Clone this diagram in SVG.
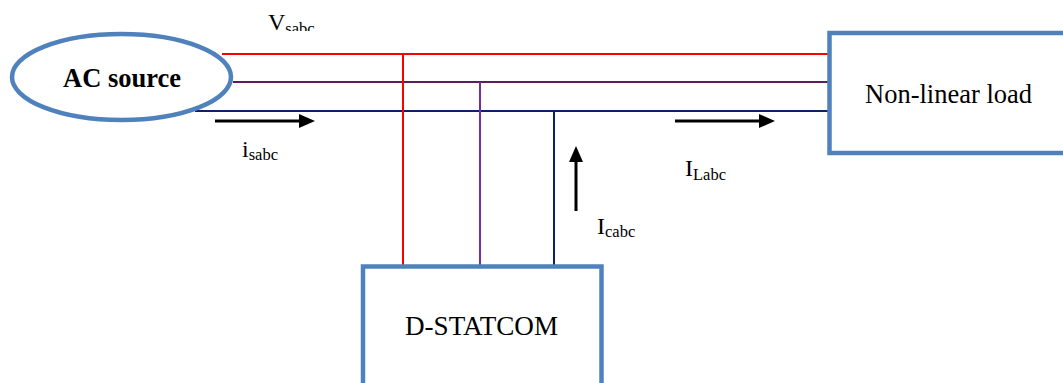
<svg xmlns="http://www.w3.org/2000/svg" width="1063" height="383" viewBox="0 0 1063 383">
<style>
.box{fill:#fff;stroke:#4f81bd;stroke-width:4.5}
.t{font-family:"Liberation Serif",serif;fill:#000}
.main{font-size:26.5px}
.lbl{font-size:24px}
.sub{font-size:16.5px}
.arr{stroke:#000;stroke-width:3;fill:none}
</style>
<defs>
<clipPath id="vclip"><rect x="0" y="0" width="400" height="31"/></clipPath>
</defs>
<rect width="1063" height="383" fill="#fff"/>
<g id="connectors">
<line x1="222" y1="54" x2="829" y2="54" stroke="#ff0000" stroke-width="2"/>
<line x1="233" y1="82" x2="829" y2="82" stroke="#5e1c5e" stroke-width="2.2"/>
<line x1="195" y1="111" x2="829" y2="111" stroke="#0c2166" stroke-width="2.2"/>
<line x1="403" y1="54" x2="403" y2="267" stroke="#ff0000" stroke-width="2"/>
<line x1="480" y1="82" x2="480" y2="267" stroke="#7030a0" stroke-width="2"/>
<line x1="554" y1="111" x2="554" y2="267" stroke="#0c2166" stroke-width="2"/>
<g id="arrow-isabc">
<line class="arr" x1="215" y1="121" x2="300" y2="121"/>
<polygon points="299,114 315,121 299,128" fill="#000"/>
</g>
<g id="arrow-ilabc">
<line class="arr" x1="675" y1="121" x2="760" y2="121"/>
<polygon points="759,114 775,121 759,128" fill="#000"/>
</g>
<g id="arrow-icabc">
<line class="arr" x1="576" y1="211" x2="576" y2="161"/>
<polygon points="569,162 576,146 583,162" fill="#000"/>
</g>
</g>
<g id="ac-source">
<ellipse cx="121.5" cy="77" rx="109.5" ry="43" fill="#fff" stroke="#4f81bd" stroke-width="4.5"/>
<text class="t main" x="63" y="87" font-weight="bold">AC source</text>
</g>
<g id="non-linear-load">
<rect class="box" x="829.5" y="33" width="260" height="120"/>
<text class="t main" x="865" y="103">Non-linear load</text>
</g>
<g id="d-statcom">
<rect class="box" x="363" y="266.5" width="238.5" height="140"/>
<text class="t main" x="405" y="335" textLength="153" lengthAdjust="spacingAndGlyphs">D-STATCOM</text>
</g>
<g id="labels">
<text class="t lbl" x="268" y="30" clip-path="url(#vclip)">V<tspan class="sub" dy="4">sabc</tspan></text>
<text class="t lbl" x="242" y="157">i<tspan class="sub" dy="3">sabc</tspan></text>
<text class="t lbl" x="685" y="176">I<tspan class="sub" dy="4">Labc</tspan></text>
<text class="t lbl" x="597" y="234">I<tspan class="sub" dy="3">cabc</tspan></text>
</g>
</svg>
